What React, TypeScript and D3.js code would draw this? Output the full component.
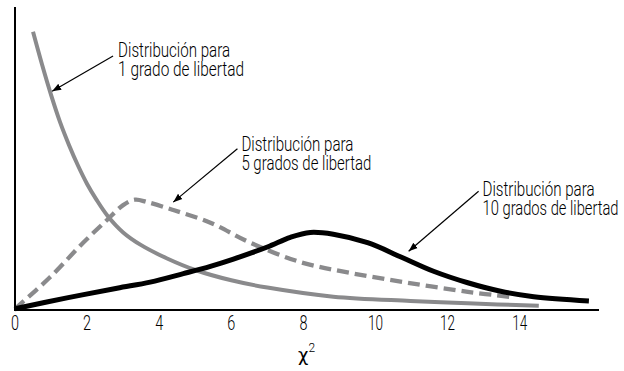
import React from 'react';
import * as d3 from 'd3';

// eje x (chi cuadrado)
const X_TICKS = [0, 2, 4, 6, 8, 10, 12, 14];

// 1 grado de libertad (gris continuo)
const DF1_X = [0.5, 0.75, 1.0, 1.25, 1.5, 1.75, 2.0, 2.25, 2.56, 3.0, 3.5, 4.22, 5.0, 6.0, 7.0, 8.83, 10.97, 12.56, 14.53];
const DF1_Y = [0.459, 0.405, 0.355, 0.31, 0.272, 0.238, 0.208, 0.183, 0.156, 0.128, 0.107, 0.085, 0.066, 0.049, 0.037, 0.022, 0.015, 0.011, 0.007];

// 5 grados de libertad (gris discontinuo)
const DF5_X = [0, 0.97, 1.89, 2.56, 3.0, 3.33, 3.67, 4.39, 5.42, 6.53, 7.92, 9.31, 10.89, 12.56, 13.83];
const DF5_Y = [0.002, 0.054, 0.111, 0.149, 0.173, 0.182, 0.178, 0.165, 0.144, 0.111, 0.079, 0.061, 0.045, 0.03, 0.021];

// 10 grados de libertad (negro)
const DF10_X = [0, 1.44, 2.83, 3.75, 4.67, 5.42, 6.06, 7.0, 7.64, 8.19, 8.83, 9.78, 10.69, 11.61, 12.56, 13.47, 14.39, 15.92];
const DF10_Y = [0.002, 0.02, 0.036, 0.046, 0.06, 0.072, 0.084, 0.104, 0.12, 0.128, 0.125, 0.111, 0.088, 0.064, 0.045, 0.031, 0.022, 0.015];

// etiquetas con flecha: texto, ancho, posición del texto, inicio y punta de la flecha
const LABEL_LINES = [
  ['Distribución para', '1 grado de libertad'],
  ['Distribución para', '5 grados de libertad'],
  ['Distribución para', '10 grados de libertad'],
];
const LABEL_WIDTHS = [[112, 126], [112, 130], [112, 136]];
const LABEL_POS: [number, number][] = [[2.86, 0.417], [6.28, 0.262], [12.97, 0.188]];
const ARROW_FROM: [number, number][] = [[2.72, 0.419], [6.17, 0.266], [12.86, 0.196]];
const ARROW_TO: [number, number][] = [[1.03, 0.361], [4.39, 0.178], [10.92, 0.097]];

const GRAY = '#8a8a8c';
const FONT = 'Roboto, "Liberation Sans", Arial, sans-serif';

export default function App() {
  const width = 624;
  const height = 371;
  const left = 15;
  const right = 599;
  const top = 7;
  const bottom = 310;

  const x = d3.scaleLinear().domain([0, 16.2]).range([left, right]);
  const y = d3.scaleLinear().domain([0, 0.5]).range([bottom, top]);

  const line = d3.line<[number, number]>()
    .x(d => x(d[0]))
    .y(d => y(d[1]))
    .curve(d3.curveCatmullRom.alpha(0.5));

  const zip = (xs: number[], ys: number[]) => xs.map((v, i) => [v, ys[i]] as [number, number]);

  const curves = [
    { d: line(zip(DF1_X, DF1_Y)) || '', stroke: GRAY, w: 4, dash: undefined },
    { d: line(zip(DF5_X, DF5_Y)) || '', stroke: GRAY, w: 4.3, dash: '12,6' },
    { d: line(zip(DF10_X, DF10_Y)) || '', stroke: '#000', w: 5, dash: undefined },
  ];

  return (
    <svg width={width} height={height} style={{ position: 'absolute', left: 0, top: 0, background: '#fff' }}>
      <defs>
        <marker id="arrow" markerUnits="userSpaceOnUse" markerWidth="10" markerHeight="8"
          refX="9" refY="4" orient="auto">
          <path d="M0,0.6 L9,4 L0,7.4 Z" fill="#000" />
        </marker>
      </defs>

      {/* curvas */}
      {curves.map((c, i) => (
        <path key={i} d={c.d} fill="none" stroke={c.stroke} strokeWidth={c.w}
          strokeDasharray={c.dash} strokeLinejoin="round" />
      ))}

      {/* ejes */}
      <line x1={left} x2={left} y1={top} y2={bottom + 1} stroke="#000" strokeWidth={2} />
      <line x1={left} x2={right} y1={bottom} y2={bottom} stroke="#000" strokeWidth={2} />

      {X_TICKS.map(t => (
        <text key={t} x={x(t)} y={330} textAnchor="middle" fontFamily={FONT} fontWeight={300}
          fontSize={21} textLength={String(t).length > 1 ? 15 : 8} lengthAdjust="spacingAndGlyphs">
          {t}
        </text>
      ))}

      <text x={298} y={361} fontFamily='"DejaVu Sans", sans-serif' fontSize={18} fill="#000">
        χ
        <tspan dy={-9} fontFamily={FONT} fontWeight={300} fontSize={12}>2</tspan>
      </text>

      {/* etiquetas */}
      {LABEL_LINES.map((lines, i) => (
        <g key={i}>
          <line x1={x(ARROW_FROM[i][0])} y1={y(ARROW_FROM[i][1])}
            x2={x(ARROW_TO[i][0])} y2={y(ARROW_TO[i][1])}
            stroke="#000" strokeWidth={1.2} markerEnd="url(#arrow)" />
          {lines.map((s, j) => (
            <text key={j} x={x(LABEL_POS[i][0])} y={y(LABEL_POS[i][1]) + j * 18.5}
              fontFamily={FONT} fontWeight={300} fontSize={21} fill="#000"
              textLength={LABEL_WIDTHS[i][j]} lengthAdjust="spacingAndGlyphs">
              {s}
            </text>
          ))}
        </g>
      ))}
    </svg>
  );
}
